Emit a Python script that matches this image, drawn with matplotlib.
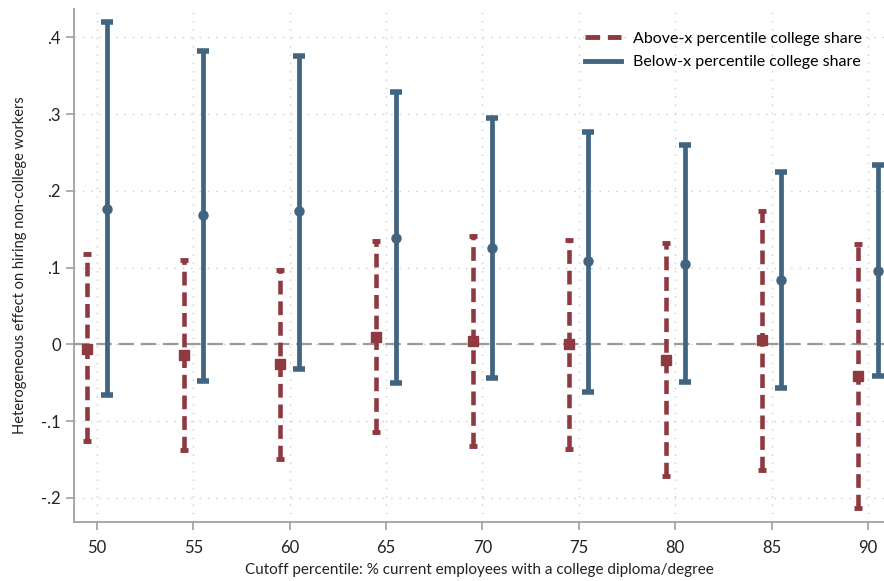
import numpy as np
import matplotlib
matplotlib.use('Agg')
import matplotlib.pyplot as plt
from matplotlib.lines import Line2D

plt.rcParams['font.family'] = ['Lato', 'DejaVu Sans']

# cutoff percentiles and the two sets of estimates with 95% bounds
cutoffs = [50, 55, 60, 65, 70, 75, 80, 85, 90]

above_est = [-0.006, -0.014, -0.026, 0.010, 0.004, 0.001, -0.020, 0.005, -0.041]
above_lo = [-0.126, -0.138, -0.150, -0.114, -0.132, -0.136, -0.171, -0.164, -0.213]
above_hi = [0.118, 0.110, 0.097, 0.135, 0.141, 0.136, 0.132, 0.173, 0.131]

below_est = [0.176, 0.168, 0.173, 0.139, 0.126, 0.108, 0.105, 0.084, 0.096]
below_lo = [-0.066, -0.048, -0.032, -0.051, -0.044, -0.062, -0.049, -0.057, -0.041]
below_hi = [0.420, 0.382, 0.375, 0.329, 0.295, 0.276, 0.259, 0.224, 0.233]

yticks = [-0.2, -0.1, 0, 0.1, 0.2, 0.3, 0.4]
ytick_labels = ['-.2', '-.1', '0', '.1', '.2', '.3', '.4']

red = '#8f3a40'
blue = '#416581'
axis_grey = '#a0a0a0'

fig = plt.figure(figsize=(8.84, 5.81), dpi=100)
ax = fig.add_axes([74 / 884, (581 - 521.7) / 581, (884 - 74) / 884, (521.7 - 9.3) / 581])

x = np.array(cutoffs, dtype=float)
xa = x - 0.5   # above-x bars sit just left of the cutoff
xb = x + 0.5   # below-x bars just right

# grid
for v in cutoffs:
    ax.axvline(v, color='#cccccc', lw=1, ls=(0, (1, 5)), zorder=0)
for v in yticks:
    ax.axhline(v, color='#cccccc', lw=1, ls=(0, (1, 5)), zorder=0)
ax.axhline(0, color='#9a9a9a', lw=1.6, ls=(0, (7, 3)), zorder=1)

# above-x: dashed red intervals
ax.vlines(xa, above_lo, above_hi, color=red, lw=3.3, linestyles=(0, (3.0, 1.5)), zorder=3)
ax.plot(xa, above_lo, ls='none', marker='_', ms=6, mew=3.5, color=red, zorder=3)
ax.plot(xa, above_hi, ls='none', marker='_', ms=6, mew=3.5, color=red, zorder=3)
ax.plot(xa, above_est, ls='none', marker='s', ms=7.5, color=red, zorder=4)

# below-x: solid blue intervals
ax.vlines(xb, below_lo, below_hi, color=blue, lw=3.4, zorder=3)
ax.plot(xb, below_lo, ls='none', marker='_', ms=8, mew=4, color=blue,
        solid_capstyle='round', zorder=3)
ax.plot(xb, below_hi, ls='none', marker='_', ms=8, mew=4, color=blue,
        solid_capstyle='round', zorder=3)
ax.plot(xb, below_est, ls='none', marker='o', ms=6.5, color=blue, zorder=4)

ax.set_xlim(48.81, 90.83)
ax.set_ylim(-0.2311, 0.4364)
ax.set_xticks(cutoffs)
ax.set_xticklabels([str(c) for c in cutoffs], fontsize=12)
ax.set_yticks(yticks)
ax.set_yticklabels(ytick_labels, fontsize=12)

for side in ['top', 'right']:
    ax.spines[side].set_visible(False)
for side in ['left', 'bottom']:
    ax.spines[side].set_color(axis_grey)
    ax.spines[side].set_linewidth(1.3)
ax.tick_params(axis='both', colors=axis_grey, labelcolor='#222222', length=6, width=1.2)
ax.tick_params(axis='x', pad=7)

ax.set_xlabel('Cutoff percentile: % current employees with a college diploma/degree',
              fontsize=11, color='#222222', labelpad=5)
ax.set_ylabel('Heterogeneous effect on hiring non-college workers',
              fontsize=10.5, color='#222222', labelpad=10)

handles = [
    Line2D([], [], color=red, lw=3.5, ls=(0, (3, 1.6))),
    Line2D([], [], color=blue, lw=3.5),
]
ax.legend(handles, ['Above-x percentile college share', 'Below-x percentile college share'],
          loc='upper right', bbox_to_anchor=(0.99, 0.985), frameon=False, fontsize=11.5,
          handlelength=2.25, handletextpad=0.7, labelspacing=0.6)

fig.savefig('out.png', dpi=100)
